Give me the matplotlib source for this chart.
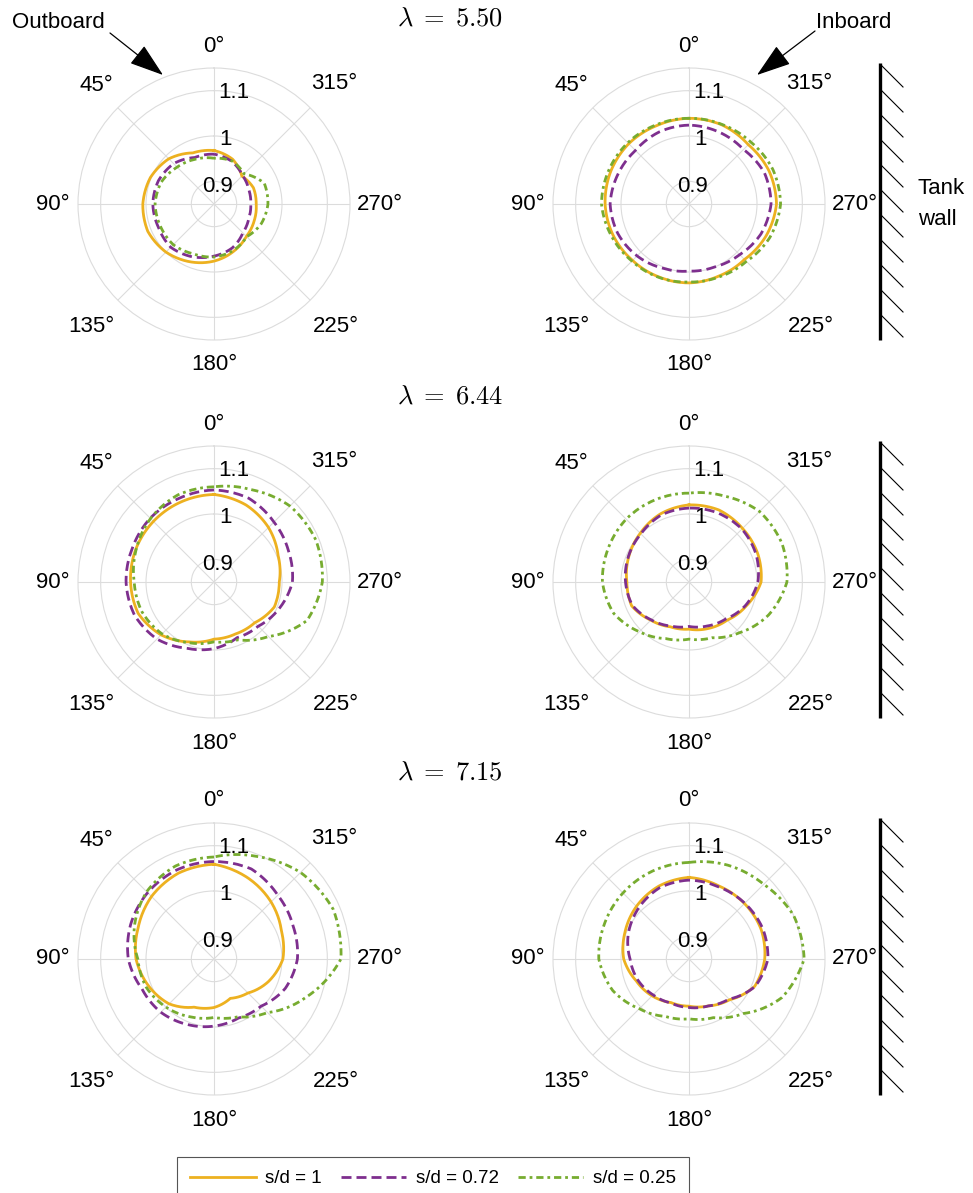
import numpy as np
import matplotlib.pyplot as plt

plt.rcParams['font.family'] = ['Liberation Sans', 'DejaVu Sans']
plt.rcParams['mathtext.fontset'] = 'cm'

# angles in degrees (0 = up, counterclockwise)
theta_deg = [0, 22.5, 45, 67.5, 90, 112.5, 135, 157.5,
             180, 202.5, 225, 247.5, 270, 292.5, 315, 337.5]
tick_deg = [0, 45, 90, 135, 180, 225, 270, 315]
r_ticks = [0.9, 1.0, 1.1]
r_tick_labels = ['0.9', '1', '1.1']
tsr_labels = ['5.50', '6.44', '7.15']
sd_labels = ['s/d = 1', 's/d = 0.72', 's/d = 0.25']

# lambda = 5.50
out_550_sd100 = [0.968, 0.972, 0.991, 1.002, 1.007, 1.008, 1.000, 0.988, 0.976, 0.963, 0.951, 0.946, 0.943, 0.944, 0.937, 0.957]
out_550_sd072 = [0.960, 0.961, 0.976, 0.983, 0.985, 0.983, 0.985, 0.976, 0.965, 0.955, 0.940, 0.933, 0.931, 0.933, 0.939, 0.952]
out_550_sd025 = [0.951, 0.957, 0.965, 0.976, 0.980, 0.978, 0.977, 0.969, 0.967, 0.961, 0.952, 0.963, 0.969, 0.970, 0.944, 0.953]
in_550_sd100 = [1.039, 1.037, 1.038, 1.037, 1.035, 1.031, 1.026, 1.024, 1.024, 1.022, 1.023, 1.034, 1.043, 1.041, 1.035, 1.039]
in_550_sd072 = [1.024, 1.022, 1.017, 1.020, 1.024, 1.020, 1.012, 1.003, 0.998, 1.000, 1.008, 1.022, 1.031, 1.030, 1.020, 1.022]
in_550_sd025 = [1.039, 1.039, 1.041, 1.042, 1.043, 1.035, 1.028, 1.025, 1.022, 1.024, 1.029, 1.043, 1.052, 1.050, 1.043, 1.040]

# lambda = 6.44
out_644_sd100 = [1.043, 1.041, 1.039, 1.037, 1.034, 1.031, 1.015, 0.993, 0.976, 0.974, 0.977, 0.994, 0.994, 1.003, 1.020, 1.034]
out_644_sd072 = [1.053, 1.050, 1.049, 1.045, 1.044, 1.040, 1.028, 1.008, 0.997, 0.983, 0.988, 1.005, 1.023, 1.028, 1.037, 1.050]
out_644_sd025 = [1.060, 1.058, 1.048, 1.036, 1.026, 1.022, 1.012, 0.995, 0.982, 0.988, 1.020, 1.072, 1.089, 1.093, 1.087, 1.070]
in_644_sd100 = [1.020, 1.013, 1.002, 0.994, 0.987, 0.987, 0.969, 0.957, 0.954, 0.961, 0.969, 0.987, 1.009, 1.014, 1.017, 1.022]
in_644_sd072 = [1.013, 1.010, 1.000, 0.995, 0.990, 0.985, 0.968, 0.955, 0.948, 0.955, 0.965, 0.985, 1.002, 1.010, 1.015, 1.015]
in_644_sd025 = [1.046, 1.046, 1.046, 1.043, 1.041, 1.030, 1.005, 0.985, 0.976, 0.983, 1.008, 1.040, 1.066, 1.072, 1.070, 1.055]

# lambda = 7.15
out_715_sd100 = [1.059, 1.055, 1.045, 1.031, 1.022, 1.006, 0.990, 0.965, 0.957, 0.944, 0.956, 0.980, 1.002, 1.011, 1.028, 1.044]
out_715_sd072 = [1.065, 1.063, 1.057, 1.049, 1.039, 1.022, 1.016, 1.006, 0.998, 0.991, 0.997, 1.020, 1.034, 1.039, 1.049, 1.065]
out_715_sd025 = [1.075, 1.072, 1.060, 1.040, 1.018, 1.012, 1.000, 0.988, 0.979, 0.988, 1.017, 1.070, 1.130, 1.135, 1.120, 1.095]
in_715_sd100 = [1.030, 1.024, 1.014, 1.003, 0.994, 0.976, 0.965, 0.954, 0.954, 0.962, 0.977, 1.007, 1.017, 1.022, 1.023, 1.024]
in_715_sd072 = [1.024, 1.020, 1.008, 0.995, 0.980, 0.972, 0.962, 0.955, 0.957, 0.962, 0.975, 1.008, 1.024, 1.026, 1.024, 1.022]
in_715_sd025 = [1.063, 1.060, 1.056, 1.052, 1.049, 1.032, 1.005, 0.987, 0.982, 0.990, 1.020, 1.072, 1.104, 1.100, 1.083, 1.074]

panels = [
    [(out_550_sd100, out_550_sd072, out_550_sd025), (in_550_sd100, in_550_sd072, in_550_sd025)],
    [(out_644_sd100, out_644_sd072, out_644_sd025), (in_644_sd100, in_644_sd072, in_644_sd025)],
    [(out_715_sd100, out_715_sd072, out_715_sd025), (in_715_sd100, in_715_sd072, in_715_sd025)],
]

colors = ['#EDB120', '#7E2F8E', '#77AC30']
dash_styles = [None, (3.6, 1.8), (2.6, 1.4, 1.0, 1.4)]
grid_col = '#dcdcdc'

W, H = 973, 1193
R = 136  # polar radius in px
R_MIN, R_MAX = 0.85, 1.15
px_per_r = R / (R_MAX - R_MIN)
col_x = [214, 689]
row_y = [204, 582, 959]
theta_label_gap = [22, 31, 25, 37, 25, 37, 30, 34]  # px outside the outer ring
r_label_inset = [5, 2, 0.5]

fig = plt.figure(figsize=(W / 100, H / 100), dpi=100)

# overlay for walls / arrows (pixel coordinates)
ov = fig.add_axes([0, 0, 1, 1])
ov.set_xlim(0, W)
ov.set_ylim(H, 0)
ov.axis('off')

# close each curve at 360 deg so the loop is drawn forward
th = np.deg2rad(np.array(theta_deg + [360]))
handles = []
for i, cy in enumerate(row_y):
    for j, cx in enumerate(col_x):
        ax = fig.add_axes([(cx - R) / W, 1 - (cy + R) / H, 2 * R / W, 2 * R / H],
                          projection='polar')
        ax.set_theta_zero_location('N')
        ax.set_theta_direction(1)
        for k, series in enumerate(panels[i][j]):
            r = np.array(series + [series[0]])
            ln, = ax.plot(th, r, color=colors[k], lw=2.0, label=sd_labels[k])
            ln.get_path()._interpolation_steps = 20
            if dash_styles[k] is not None:
                ln.set_dashes(dash_styles[k])
            if i == 0 and j == 0:
                handles.append(ln)
        ax.set_ylim(R_MIN, R_MAX)
        ax.set_yticks(r_ticks)
        ax.set_yticklabels([])
        ax.set_thetagrids(tick_deg, labels=[''] * len(tick_deg))
        ax.grid(True, color=grid_col, lw=0.8)
        ax.spines['polar'].set_color(grid_col)
        ax.spines['polar'].set_linewidth(0.8)
        for a, gap in zip(tick_deg, theta_label_gap):
            ax.text(np.deg2rad(a), R_MAX + gap / px_per_r, f'{a}°', ha='center',
                    va='center', fontsize=16, clip_on=False)
        for v, lab, inset in zip(r_ticks, r_tick_labels, r_label_inset):
            ax.text(np.deg2rad(-10), v - inset / px_per_r, lab, ha='center',
                    va='center', fontsize=16, clip_on=False)

    fig.text(450 / W, 1 - (cy - 186) / H, r'$\lambda \;=\; %s$' % tsr_labels[i],
             ha='center', va='center', fontsize=19)

    # tank wall with hatching
    top, bot = cy - 141, cy + 136
    ov.plot([880, 880], [top, bot], color='k', lw=2.4, solid_capstyle='butt')
    for y0 in np.arange(top + 2, bot - 20, 25):
        ov.plot([881, 903], [y0, y0 + 22], color='k', lw=0.8)

ov.text(918, 204, 'Tank\nwall', ha='left', va='center', fontsize=16, linespacing=1.65)

ov.annotate('', xy=(163, 75), xytext=(110, 33),
            arrowprops=dict(arrowstyle='-|>,head_length=1.2,head_width=0.4',
                            color='k', lw=0.9, mutation_scale=18, shrinkA=0, shrinkB=0))
ov.text(58, 22, 'Outboard', ha='center', va='center', fontsize=16)
ov.annotate('', xy=(757, 75), xytext=(815, 31),
            arrowprops=dict(arrowstyle='-|>,head_length=1.2,head_width=0.4',
                            color='k', lw=0.9, mutation_scale=18, shrinkA=0, shrinkB=0))
ov.text(854, 22, 'Inboard', ha='center', va='center', fontsize=16)

leg = fig.legend(handles, sd_labels, loc='upper center',
                 bbox_to_anchor=(433 / W, 1 - 1157 / H), ncol=3,
                 fancybox=False, edgecolor='#555555', framealpha=1,
                 fontsize=13.5, handlelength=3.5, columnspacing=1.0,
                 handletextpad=0.5, borderaxespad=0, borderpad=0.7)
leg.get_frame().set_linewidth(0.8)

fig.savefig('out.png', dpi=100)
